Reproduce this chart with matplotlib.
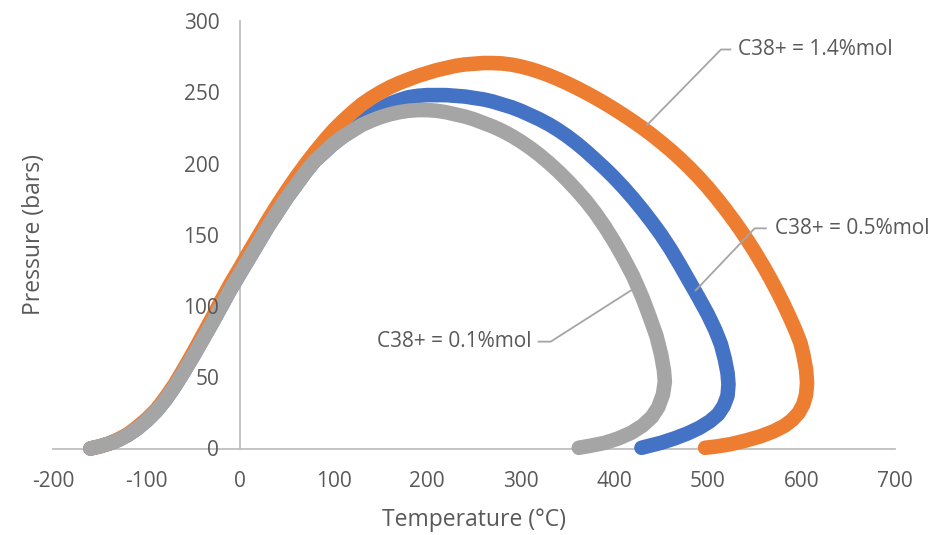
import matplotlib.pyplot as plt

# phase envelope points (temperature degC, pressure bar)
t_01 = [-160, -150, -140, -130, -120, -110, -100, -90, -80, -70, -60, -50, -40, -30, -20, -10, 0,
        10, 20, 30, 40, 50, 60, 70, 80, 90, 100, 110, 120, 130, 140, 150, 160, 170, 180, 190, 200,
        210, 220, 230, 240, 250, 260, 270, 280, 290, 300, 310, 320, 330, 340, 350, 360, 370, 380, 390,
        400, 410, 420, 430, 438, 445, 450, 453, 454, 452, 447, 440, 430, 418, 404, 390, 375, 362]
p_01 = [0, 1.5, 3.5, 6, 9.5, 14, 19.5, 26, 34, 43.5, 54, 65, 76.5, 88, 100, 112, 123,
        134, 145, 156, 166, 176, 185, 194, 202, 208, 214, 219, 223, 227, 230, 232.5, 234.5, 236, 237, 237.5, 237.5,
        237, 236, 234.5, 233, 231, 228.5, 226, 223, 219.5, 215.5, 211, 206, 200.5, 194.5, 188, 181, 173.5, 165, 155.5,
        145, 133.5, 121, 106, 92, 79, 66, 55, 47, 38, 29, 22, 16, 11, 7, 4, 2, 0.5]

t_05 = [-160, -150, -140, -130, -120, -110, -100, -90, -80, -70, -60, -50, -40, -30, -20, -10, 0,
        10, 20, 30, 40, 50, 60, 70, 80, 90, 100, 110, 120, 130, 140, 150, 160, 170, 180, 190, 200,
        210, 220, 230, 240, 250, 260, 270, 280, 290, 300, 310, 320, 330, 340, 350, 360, 370, 380, 390,
        400, 410, 420, 430, 440, 450, 460, 470, 480, 490, 500, 508, 514, 518, 521, 522, 521, 517, 511,
        502, 491, 478, 464, 450, 438, 429]
p_05 = [0, 1.5, 3.5, 6, 9.5, 14, 19.5, 26, 34, 43.5, 54, 65, 76.5, 88, 100, 112, 123,
        134, 145, 156, 166, 176, 185, 194, 202, 208, 214, 219, 223.5, 229, 234, 238.5, 242, 244.5, 246.5, 247.5, 248,
        248, 248, 247.5, 247, 246, 245, 243.5, 241.5, 239.5, 237, 234, 231, 227.5, 223.5, 219, 214, 208.5, 202.5, 196.5,
        190, 183, 175.5, 167.5, 159, 150, 140, 129, 117.5, 106, 94, 83, 73, 63, 53, 45, 37, 30, 24,
        19, 14.5, 10.5, 7, 4, 2, 0.5]

t_14 = [-160, -150, -140, -130, -120, -110, -100, -90, -80, -70, -60, -50, -40, -30, -20, -10, 0,
        10, 20, 30, 40, 50, 60, 70, 80, 90, 100, 110, 120, 130, 140, 150, 160, 170, 180, 190, 200,
        210, 220, 230, 240, 250, 260, 270, 280, 290, 300, 310, 320, 330, 340, 350, 360, 370, 380, 390,
        400, 410, 420, 430, 440, 450, 460, 470, 480, 490, 500, 510, 520, 530, 540, 550, 560, 567, 574,
        581, 588, 594, 599, 602, 605, 606, 605, 602, 597, 590, 582, 570, 556, 540, 524, 510, 497]
p_14 = [0, 1.5, 3.5, 6.5, 10, 15, 20.5, 27, 35.5, 45, 56, 67.5, 79.5, 91.5, 104, 116, 127,
        138.5, 149.5, 160.5, 171, 181, 190.5, 199.5, 208, 216, 223.5, 230, 236, 241.5, 246, 250, 253.5, 256.5, 259, 261.5, 263.5,
        265.5, 267, 268.5, 269.5, 270, 270.5, 270.5, 270.2, 269.4, 268.1, 266.4, 264.3, 261.9, 259.2, 256.2, 253, 249.6, 246, 242.2,
        238.2, 234, 229.6, 225, 220.1, 214.9, 209.4, 203.5, 197.2, 190.4, 183.1, 175.2, 166.8, 157.9, 148.4, 138.2, 127.2, 119, 110.4,
        101.2, 91.4, 82.4, 74, 66, 55, 46, 38, 31, 25, 20, 16, 12, 8.5, 5.5, 3, 1.5, 0.5]

labels = ['C38+ = 0.1%mol', 'C38+ = 0.5%mol', 'C38+ = 1.4%mol']

text_col = '#595959'
axis_col = '#BFBFBF'
plt.rcParams['font.family'] = ['Open Sans', 'DejaVu Sans']
plt.rcParams['axes.unicode_minus'] = False

fig = plt.figure(figsize=(9.53, 5.35), dpi=100)
ax = fig.add_axes([53/953, 86.5/535, 842/953, 427.5/535])

# series 1 (blue) drawn first, grey last so it sits on top
style = dict(lw=10.5, solid_capstyle='round', solid_joinstyle='round', clip_on=False)
ax.plot(t_05, p_05, color='#4472C4', zorder=2, **style)
ax.plot(t_14, p_14, color='#ED7D31', zorder=2.05, **style)
ax.plot(t_01, p_01, color='#A5A5A5', zorder=2.1, **style)

# leader lines + data labels
lead = dict(color='#A5A5A5', lw=1.3, zorder=3, clip_on=False)
ax.plot([435, 514, 524], [227, 280, 280], **lead)
ax.text(532, 280, labels[2], color=text_col, fontsize=15, va='center', ha='left')
ax.plot([487, 550, 562], [111, 154.5, 154.5], **lead)
ax.text(572, 154.5, labels[1], color=text_col, fontsize=15, va='center', ha='left')
ax.plot([418, 332, 319], [111, 75, 75], **lead)
ax.text(311, 75, labels[0], color=text_col, fontsize=15, va='center', ha='right')

ax.set_xlim(-200, 700)
ax.set_ylim(0, 300)
ax.set_xticks(range(-200, 701, 100))
ax.set_yticks(range(0, 301, 50))

ax.spines['left'].set_position(('data', 0))
ax.spines['bottom'].set_position(('data', 0))
ax.spines['right'].set_visible(False)
ax.spines['top'].set_visible(False)
for s in ['left', 'bottom']:
    ax.spines[s].set_color(axis_col)
    ax.spines[s].set_linewidth(1.3)
    ax.spines[s].set_zorder(1)
ax.xaxis.set_zorder(3)
ax.yaxis.set_zorder(3)

ax.tick_params(axis='both', length=0, labelsize=15, labelcolor=text_col)
ax.tick_params(axis='x', pad=16)
ax.tick_params(axis='y', pad=15)

fig.text(474/953, 1 - 520/535, 'Temperature (°C)', ha='center', va='center', fontsize=16.5, color=text_col)
fig.text(34/953, 1 - 235/535, 'Pressure (bars)', ha='center', va='center', rotation=90, fontsize=16.5, color=text_col)

fig.savefig('out.png', dpi=100)
